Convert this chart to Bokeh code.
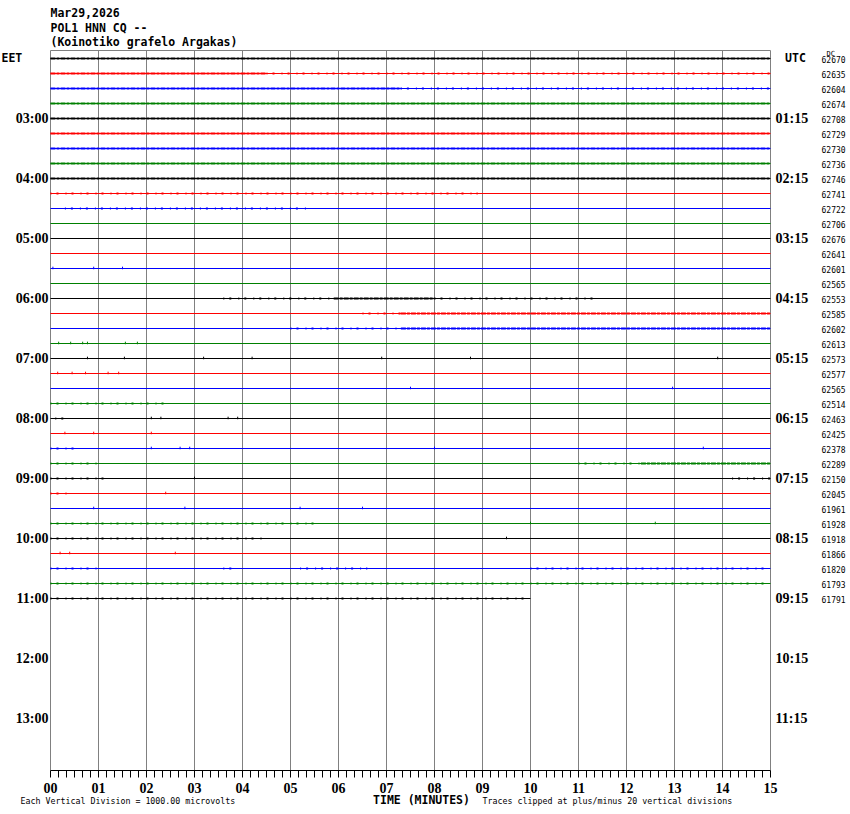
from bokeh.plotting import figure
from bokeh.models import Range1d
from bokeh.core.properties import value
from bokeh.embed import file_html
from bokeh.resources import INLINE

# ---------------- data ----------------
header_lines = ["Mar29,2026", "POL1 HNN CQ --", "(Koinotiko grafelo Argakas)"]
minutes = list(range(16))
minute_labels = ["%02d" % m for m in minutes]
eet_label_rows = [4, 8, 12, 16, 20, 24, 28, 32, 36, 40, 44]
eet_labels = ["03:00", "04:00", "05:00", "06:00", "07:00", "08:00",
              "09:00", "10:00", "11:00", "12:00", "13:00"]
utc_labels = ["01:15", "02:15", "03:15", "04:15", "05:15", "06:15",
              "07:15", "08:15", "09:15", "10:15", "11:15"]
dc_values = [62670, 62635, 62604, 62674, 62708, 62729, 62730, 62736, 62746,
             62741, 62722, 62706, 62676, 62641, 62601, 62565, 62553, 62585,
             62602, 62613, 62573, 62577, 62565, 62514, 62463, 62425, 62378,
             62289, 62150, 62045, 61961, 61928, 61918, 61866, 61820, 61793,
             61791]
trace_colors = ["#000000", "#ff0000", "#0000ff", "#008000"]
last_trace_end = 10.0
rows_per_page = 48

# busy (dense) stretches of trace: (trace, start minute, end minute)
dense_rows = [0, 1, 2, 3, 4, 5, 6, 7, 8, 16, 17, 18, 27]
dense_start = [0, 0, 0, 0, 0, 0, 0, 0, 0, 5.9, 7.3, 7.3, 12.3]
dense_end = [15, 4.5, 7.3, 15, 15, 15, 15, 15, 15, 8.0, 15, 15, 15]

# sparse noisy stretches
sparse_rows = [1, 2, 9, 10, 16, 16, 17, 18, 23, 24, 26, 27, 27, 28, 28, 29,
               31, 32, 34, 34, 34, 34, 35, 36]
sparse_start = [4.5, 7.3, 0, 0.3, 3.6, 8.0, 6.5, 5.0, 0, 0.1, 0, 0, 11.0, 0,
                14.2, 0, 0, 0, 0, 3.6, 5.2, 10.0, 0, 0]
sparse_end = [15, 15, 8.9, 5.4, 5.9, 11.4, 7.3, 7.3, 2.4, 0.4, 0.5, 1.0, 12.3,
              1.2, 15, 0.4, 5.5, 4.5, 1.0, 3.9, 6.6, 15, 15, 10]

# isolated spikes: (trace, minute)
spike_rows = [14, 14, 14, 19, 19, 19, 19, 19, 19, 20, 20, 20, 20, 20, 20, 20,
              21, 21, 21, 21, 21, 22, 22, 24, 24, 24, 24, 25, 25, 25, 26, 26,
              26, 26, 26, 28, 29, 30, 30, 30, 30, 31, 31, 32, 33, 33, 33]
spike_min = [0.05, 0.9, 1.5, 0.17, 0.42, 0.67, 0.77, 1.56, 1.81, 0.77, 1.54,
             3.19, 4.2, 6.9, 8.75, 13.9, 0.15, 0.45, 0.73, 1.2, 1.42, 7.5,
             12.96, 2.1, 2.3, 3.7, 3.9, 0.3, 0.9, 2.1, 2.1, 2.7, 2.9, 8.0,
             13.6, 3.0, 2.4, 0.9, 2.8, 5.2, 6.5, 10.0, 12.6, 9.5, 0.2, 0.4,
             2.6]

# ---------------- layout helpers (page pixels -> data) ----------------
W, H = 848, 810


def mx(xp):
    return (xp - 50) / 48.0


def ry(yp):
    return (yp - 58) / 15.0


MONO = "DejaVu Sans Mono"
SERIF = "Liberation Serif"
GRID = "#808080"

p = figure(width=W, height=H, output_backend="svg", toolbar_location=None,
           x_range=Range1d(mx(0), mx(W)), y_range=Range1d(ry(H), ry(0)),
           x_axis_location=None, y_axis_location=None,
           min_border=0, min_border_left=0, min_border_right=0,
           min_border_top=0, min_border_bottom=0)
p.background_fill_color = "white"
p.border_fill_color = "white"
p.outline_line_color = None
p.grid.visible = False

top_row = ry(50)
bottom_row = ry(770)
first_min, last_min = minutes[0], minutes[-1]

# minute grid lines (the outer two form the box sides)
p.segment(x0=minutes, x1=minutes, y0=[top_row] * len(minutes),
          y1=[bottom_row] * len(minutes), line_color=GRID, line_width=1)
# top edge
p.segment(x0=[first_min], x1=[last_min], y0=[top_row], y1=[top_row],
          line_color=GRID, line_width=1)

# base traces
n = len(dc_values)
xs = [[first_min, last_min] if k < n - 1 else [first_min, last_trace_end]
      for k in range(n)]
ys = [[k, k] for k in range(n)]
cols = [trace_colors[k % 4] for k in range(n)]
p.multi_line(xs=xs, ys=ys, line_color=cols, line_width=1)

# dense stretches
p.multi_line(xs=[[a, b] for a, b in zip(dense_start, dense_end)],
             ys=[[r, r] for r in dense_rows],
             line_color=[trace_colors[r % 4] for r in dense_rows],
             line_width=2, line_dash="5 1 3 1")
# sparse stretches
p.multi_line(xs=[[a, b] for a, b in zip(sparse_start, sparse_end)],
             ys=[[r, r] for r in sparse_rows],
             line_color=[trace_colors[r % 4] for r in sparse_rows],
             line_width=2, line_dash="1 5 2 7")
# spikes
p.segment(x0=spike_min, x1=spike_min,
          y0=[r - 0.12 for r in spike_rows], y1=[r + 0.05 for r in spike_rows],
          line_color=[trace_colors[r % 4] for r in spike_rows], line_width=1)

# time axis: line, ticks every 10 s, labels
minor = [first_min + i / 6 for i in range(int((last_min - first_min) * 6) + 1)]
p.segment(x0=[first_min], x1=[last_min], y0=[bottom_row], y1=[bottom_row],
          line_color="black", line_width=1)
p.segment(x0=minor, x1=minor, y0=[bottom_row] * len(minor),
          y1=[ry(777)] * len(minor), line_color="black", line_width=1)
p.text(x=minutes, y=[ry(787)] * len(minutes), text=minute_labels,
       text_font=value(SERIF), text_font_size="14px", text_font_style="bold",
       text_align="center", text_baseline="middle", text_color="black")


def txt(texts, xps, yps, font=MONO, size="11.5px", style="bold",
        align="left"):
    p.text(x=[mx(v) for v in xps], y=[ry(v) for v in yps], text=texts,
           text_font=value(font), text_font_size=size,
           text_font_style=style, text_align=align, text_baseline="middle",
           text_color="black")


txt(header_lines, [50] * 3, [12, 27, 41])
txt(["EET"], [1], [57])
txt(["UTC"], [795], [57], align="center")
txt(eet_labels, [48] * len(eet_labels), [58 + 15 * r for r in eet_label_rows],
    font=SERIF, size="14px", align="right")
txt(utc_labels, [775] * len(utc_labels), [58 + 15 * r for r in eet_label_rows],
    font=SERIF, size="14px")
txt([str(v) for v in dc_values], [821] * n, [59 + 15 * k for k in range(n)],
    size="8px", style="normal")
txt(["DC"], [826], [53], size="7px", style="normal")
txt(["Each Vertical Division = 1000.00 microvolts"], [20], [800],
    size="8.3px", style="normal")
txt(["TIME (MINUTES)"], [421], [799], align="center")
txt(["Traces clipped at plus/minus 20 vertical divisions"], [482], [800],
    size="8.3px", style="normal")

open("out.html", "w").write(file_html(p, INLINE))
